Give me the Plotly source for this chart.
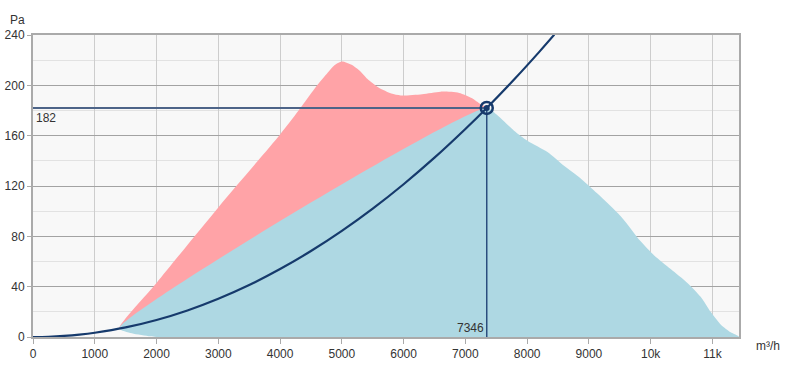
import plotly.graph_objects as go

# --- data ---
# red area: upper edge (fan max pressure envelope)
red_q = [1400, 2000, 3000, 4000, 4300, 4600, 4770, 4880, 5000, 5150, 5280, 5416, 5600, 5800, 5955, 6300, 6600, 6900, 7100, 7250, 7346]
red_p = [7, 43, 103, 161, 180, 200, 210, 216, 219, 216.5, 212, 205, 198, 193.5, 192, 193, 195, 194, 190, 185, 182]

# blue area: working range
blue_q = [2000, 1900, 1600, 1400, 7346, 7500, 7788, 8005, 8329, 8597, 8867, 9137, 9515, 9838, 10053, 10324, 10594, 10809, 10971, 11133, 11295, 11430]
blue_p = [0, 0.5, 3, 7, 182, 177, 164, 156, 147, 136, 126, 114, 96, 76, 65, 54, 43, 32, 20, 10, 3.7, 0]

# system curve
sys_q = [0, 250, 500, 750, 1000, 1500, 2000, 2500, 3000, 3500, 4000, 4500, 5000, 5500, 6000, 6500, 7000, 7346, 7800, 8200, 8440]
sys_p = [0, 0.2, 0.84, 1.9, 3.4, 7.6, 13.5, 21.1, 30.4, 41.3, 54, 68.3, 84.3, 102, 121.4, 142.5, 165.3, 182, 205.2, 226.8, 240.3]

op_q = 7346
op_p = 182

x_tickvals = [0, 1000, 2000, 3000, 4000, 5000, 6000, 7000, 8000, 9000, 10000, 11000]
x_ticktext = ["0", "1000", "2000", "3000", "4000", "5000", "6000", "7000", "8000", "9000", "10k", "11k"]
y_tickvals = [0, 40, 80, 120, 160, 200, 240]

NAVY = "#163a6c"
FONT = "Liberation Sans, Arial, sans-serif"

W, H = 787, 375
ML, MT, MR, MB = 33, 35, 48, 38
pw, ph = W - ML - MR, H - MT - MB


def paper_x(win_x):
    return (win_x - ML) / pw


def paper_y(win_y):
    return (H - MB - win_y) / ph


fig = go.Figure()

# red polygon: upper edge then back along the blue top line
fig.add_trace(go.Scatter(
    x=red_q + [1400], y=red_p + [7],
    fill="toself", fillcolor="#ffa3a7", line=dict(width=0, shape="spline", smoothing=0.7),
    mode="lines", hoverinfo="skip", showlegend=False))

fig.add_trace(go.Scatter(
    x=blue_q + [blue_q[0]], y=blue_p + [blue_p[0]],
    fill="toself", fillcolor="#aed8e3", line=dict(width=0, shape="spline", smoothing=0.7),
    mode="lines", hoverinfo="skip", showlegend=False))

# reference lines to the operating point
fig.add_trace(go.Scatter(
    x=[0, op_q], y=[op_p, op_p], mode="lines",
    line=dict(color="#4d6488", width=2), showlegend=False, hoverinfo="skip"))
fig.add_trace(go.Scatter(
    x=[op_q, op_q], y=[0, op_p], mode="lines",
    line=dict(color="#2a4d7e", width=1.5), showlegend=False, hoverinfo="skip"))

# system curve
fig.add_trace(go.Scatter(
    x=sys_q, y=sys_p, mode="lines", line=dict(color=NAVY, width=2.2, shape="spline"),
    showlegend=False, hoverinfo="skip"))

# operating point
fig.add_trace(go.Scatter(
    x=[op_q], y=[op_p], mode="markers",
    marker=dict(symbol="circle", size=6, color=NAVY),
    showlegend=False, hoverinfo="skip"))
fig.add_trace(go.Scatter(
    x=[op_q], y=[op_p], mode="markers",
    marker=dict(symbol="circle-open", size=12, color=NAVY, line=dict(width=2.5, color=NAVY)),
    showlegend=False, hoverinfo="skip"))

fig.add_annotation(x=0, y=op_p, xref="x", yref="y", text=str(op_p), showarrow=False,
                   xanchor="left", yanchor="top", xshift=1, yshift=-1,
                   font=dict(family=FONT, size=12, color="#333"))
fig.add_annotation(x=op_q, y=0, xref="x", yref="y", text=str(op_q), showarrow=False,
                   xanchor="right", yanchor="bottom", xshift=-1, yshift=0,
                   font=dict(family=FONT, size=12, color="#333"))

fig.add_annotation(x=paper_x(9), y=paper_y(12), xref="paper", yref="paper",
                   text="Pa", showarrow=False, xanchor="left", borderpad=0,
                   font=dict(family=FONT, size=12, color="#333"))
fig.add_annotation(x=paper_x(754), y=paper_y(355), xref="paper", yref="paper",
                   text="m³/h", showarrow=False, xanchor="left",
                   font=dict(family=FONT, size=12, color="#333"))

fig.update_layout(
    width=W, height=H,
    margin=dict(l=ML, r=MR, t=MT, b=MB, autoexpand=False),
    paper_bgcolor="white", plot_bgcolor="#f8f8f8",
    font=dict(family=FONT, size=12, color="#333"),
    showlegend=False,
)

fig.update_xaxes(
    range=[0, 11430], tickvals=x_tickvals, ticktext=x_ticktext,
    showgrid=True, gridcolor="#cdcdcd", gridwidth=1,
    showline=True, linecolor="#aaaaaa", linewidth=2, mirror=True,
    ticks="outside", ticklen=5, tickcolor="#aaaaaa", zeroline=False,
    tickfont=dict(family=FONT, size=12, color="#333"),
)
fig.update_yaxes(
    range=[0, 240], tickvals=y_tickvals,
    showgrid=True, gridcolor="#a3a3a3", gridwidth=1,
    minor=dict(dtick=20, tick0=0, showgrid=True, gridcolor="#e2e2e2", gridwidth=1),
    showline=True, linecolor="#aaaaaa", linewidth=2, mirror=True,
    ticks="outside", ticklen=4, tickcolor="#aaaaaa", zeroline=False,
    tickfont=dict(family=FONT, size=12, color="#333"),
)

fig.write_html("out.html", config={"displayModeBar": False},
               post_script="document.body.style.margin='0px';")
